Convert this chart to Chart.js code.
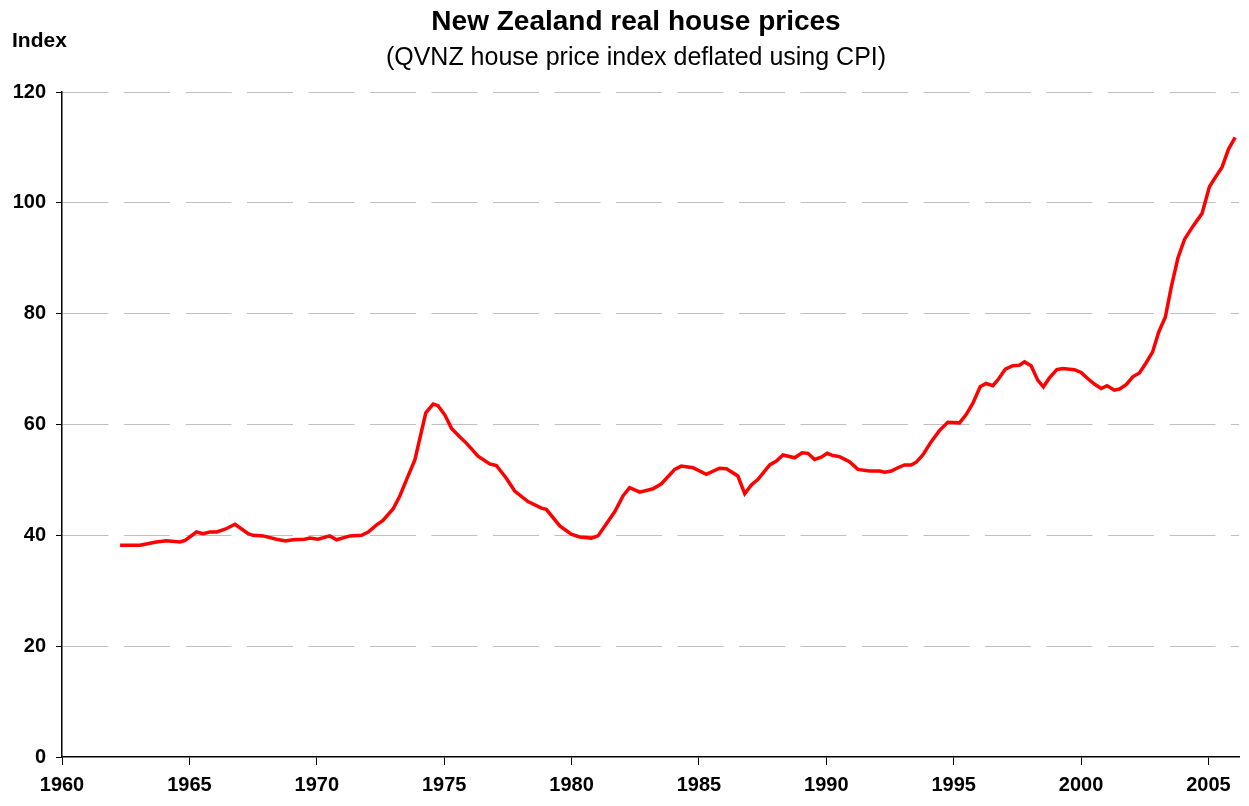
<!DOCTYPE html>
<html>
<head>
<meta charset="utf-8">
<script src="https://cdn.jsdelivr.net/npm/chart.js@4/dist/chart.umd.min.js"></script>
<style>
  html, body { margin: 0; padding: 0; background: #fff; }
  #wrap { width: 1249px; height: 806px; }
</style>
</head>
<body>
<div id="wrap"><canvas id="chart" width="1249" height="806"></canvas></div>
<script>
// decimal years
const years = [
  1962.28, 1963.06, 1963.7, 1964.1, 1964.63, 1964.83, 1965.28, 1965.54, 1965.8, 1966.07,
  1966.4, 1966.79, 1967.31, 1967.5, 1967.9, 1968.42, 1968.77, 1969.07, 1969.53, 1969.73,
  1970.05, 1970.51, 1970.78, 1971.3, 1971.76, 1972.02, 1972.35, 1972.6, 1973.0, 1973.27,
  1973.52, 1973.85, 1974.28, 1974.57, 1974.76, 1975.03, 1975.29, 1975.61, 1975.88, 1976.33,
  1976.79, 1977.05, 1977.44, 1977.77, 1978.29, 1978.82, 1979.01, 1979.54, 1979.99, 1980.32,
  1980.78, 1981.04, 1981.37, 1981.7, 1982.02, 1982.28, 1982.68, 1983.2, 1983.53, 1984.05,
  1984.31, 1984.77, 1985.29, 1985.81, 1986.08, 1986.53, 1986.8, 1987.06, 1987.32, 1987.78,
  1988.04, 1988.3, 1988.76, 1989.05, 1989.28, 1989.54, 1989.8, 1990.04, 1990.26, 1990.52,
  1990.91, 1991.24, 1991.7, 1992.09, 1992.29, 1992.55, 1992.81, 1993.07, 1993.33, 1993.53,
  1993.79, 1994.12, 1994.44, 1994.77, 1995.23, 1995.49, 1995.75, 1996.04, 1996.27, 1996.54,
  1996.76, 1997.03, 1997.32, 1997.58, 1997.78, 1998.04, 1998.3, 1998.52, 1998.76, 1999.05,
  1999.28, 1999.74, 2000.0, 2000.26, 2000.52, 2000.79, 2001.02, 2001.31, 2001.51, 2001.77,
  2002.03, 2002.29, 2002.55, 2002.81, 2003.05, 2003.31, 2003.54, 2003.8, 2004.06, 2004.38,
  2004.75, 2005.04, 2005.27, 2005.53, 2005.79, 2006.05
];

// real house price index
const realPrices = [
  38.2, 38.2, 38.8, 39.0, 38.8, 39.1, 40.6, 40.3, 40.6, 40.6,
  41.1, 42.0, 40.3, 40.0, 39.9, 39.3, 39.0, 39.2, 39.3, 39.5,
  39.3, 39.9, 39.2, 39.9, 40.0, 40.6, 41.9, 42.7, 44.8, 47.2,
  50.0, 53.6, 62.1, 63.7, 63.4, 61.7, 59.3, 57.8, 56.6, 54.3,
  52.9, 52.6, 50.3, 48.0, 46.1, 44.9, 44.7, 41.7, 40.2, 39.7,
  39.5, 39.9, 42.1, 44.3, 47.1, 48.6, 47.8, 48.4, 49.3, 51.9,
  52.5, 52.2, 51.0, 52.1, 52.0, 50.7, 47.5, 49.1, 50.1, 52.7,
  53.4, 54.5, 54.0, 54.9, 54.8, 53.7, 54.1, 54.8, 54.4, 54.2,
  53.3, 51.9, 51.6, 51.6, 51.4, 51.6, 52.2, 52.7, 52.7, 53.2,
  54.5, 56.9, 58.9, 60.4, 60.3, 61.8, 63.8, 66.8, 67.4, 67.0,
  68.2, 70.0, 70.6, 70.7, 71.3, 70.6, 68.0, 66.8, 68.4, 69.9,
  70.1, 69.9, 69.4, 68.3, 67.3, 66.5, 67.0, 66.2, 66.4, 67.2,
  68.6, 69.3, 71.1, 73.1, 76.7, 79.4, 84.8, 90.0, 93.4, 95.7,
  98.1, 102.9, 104.6, 106.4, 109.7, 111.8
];

const xTicks = [1960, 1965, 1970, 1975, 1980, 1985, 1990, 1995, 2000, 2005];
const yTicks = [0, 20, 40, 60, 80, 100, 120];

const points = years.map((yr, i) => ({ x: yr, y: realPrices[i] }));

const FONT = '"Liberation Sans", Arial, sans-serif';

// titles and the axis caption
const titles = {
  id: 'titles',
  afterDraw(chart) {
    const c = chart.ctx;
    c.save();
    c.fillStyle = '#000';
    c.textBaseline = 'middle';
    c.textAlign = 'center';
    c.font = 'bold 28px ' + FONT;
    c.fillText('New Zealand real house prices', 636, 22);
    c.font = '25px ' + FONT;
    c.fillText('(QVNZ house price index deflated using CPI)', 636, 58);
    c.textAlign = 'left';
    c.font = 'bold 21px ' + FONT;
    c.fillText('Index', 12, 41);
    c.restore();
  }
};

new Chart(document.getElementById('chart'), {
  type: 'line',
  data: {
    datasets: [{
      label: 'Real house prices',
      data: points,
      borderColor: '#ff0000',
      borderWidth: 3.5,
      pointRadius: 0,
      fill: false,
      tension: 0
    }]
  },
  options: {
    responsive: false,
    animation: false,
    layout: { padding: { top: 92, right: 10, left: 0, bottom: 0 } },
    plugins: {
      legend: { display: false },
      tooltip: { enabled: false }
    },
    scales: {
      x: {
        type: 'linear',
        min: 1960,
        max: 2006.2,
        afterBuildTicks(scale) { scale.ticks = xTicks.map(v => ({ value: v })); },
        afterFit(scale) { scale.height = 49; },
        ticks: {
          color: '#000',
          font: { family: FONT, size: 20, weight: 'bold' },
          padding: 8,
          maxRotation: 0,
          autoSkip: false,
          callback: v => String(v)
        },
        grid: { drawOnChartArea: false, tickLength: 8, tickColor: '#000', tickWidth: 1 },
        border: { color: '#000', width: 1.5 }
      },
      y: {
        min: 0,
        max: 120,
        afterBuildTicks(scale) { scale.ticks = yTicks.map(v => ({ value: v })); },
        afterFit(scale) { scale.width = 62; },
        ticks: {
          color: '#000',
          font: { family: FONT, size: 20, weight: 'bold' },
          padding: 10
        },
        grid: {
          color: ctx => ctx.tick && ctx.tick.value === 0 ? 'rgba(0,0,0,0)' : '#c0c0c0',
          lineWidth: 1,
          tickLength: 6,
          tickColor: '#000',
          tickBorderDash: []
        },
        border: { color: '#000', width: 1.5, dash: [46, 15.5] }
      }
    }
  },
  plugins: [titles]
});
</script>
</body>
</html>
